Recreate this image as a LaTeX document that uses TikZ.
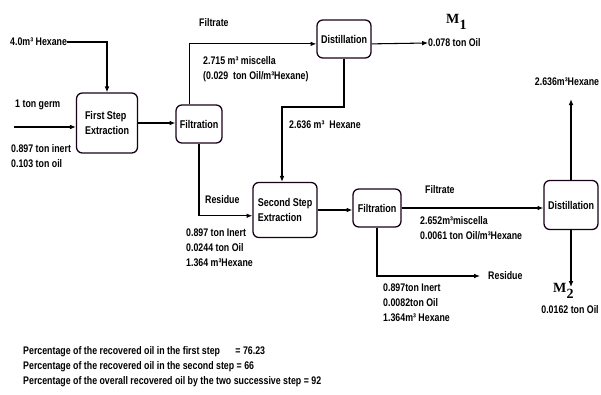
\documentclass[tikz,border=0pt]{standalone}
\usepackage{fontspec}
\setmainfont{Liberation Sans}[FakeStretch=0.8]
\newfontfamily\mfont{Liberation Serif}
\usetikzlibrary{arrows.meta}
\tikzset{
  unit/.style={draw=black!80!violet, line width=1.1pt, rounded corners=5pt, align=left, inner sep=1pt,
    font=\bfseries\fontsize{9.6}{12.5}\selectfont},
  lbl/.style={anchor=west, inner sep=0pt, align=left, font=\bfseries\fontsize{9.4}{12.8}\selectfont},
  stack/.style={lbl, anchor=north west},
  flow/.style={line width=0.9pt, -{Latex[length=5pt,width=4pt]}},
}
\begin{document}
\begin{tikzpicture}[x=0.03cm, y=-0.03cm]
   \useasboundingbox (0,0) rectangle (601,394);
   \node[unit, minimum width=1.83cm, minimum height=1.8cm] (ext1) at (107,123) {First Step\\Extraction};
   \node[unit, minimum width=1.38cm, minimum height=1.14cm] (filt1) at (199,124) {Filtration};
   \node[unit, minimum width=1.62cm, minimum height=1.14cm] (dist1) at (344,39) {Distillation};
   \node[unit, minimum width=1.92cm, minimum height=1.65cm] (ext2) at (285,210) {Second Step\\Extraction};
   \node[unit, minimum width=1.44cm, minimum height=1.14cm] (filt2) at (377,208) {Filtration};
   \node[unit, minimum width=1.62cm, minimum height=1.47cm] (dist2) at (571,205) {Distillation};
   \node[lbl] (hex0) at (10,42) {4.0m³ Hexane};
   \node[lbl] (germ) at (15,105) {1 ton germ};
   \node[stack] (feedcomp) at (11,144) {0.897 ton inert\\0.103 ton oil};
   \node[lbl] (filtrate1) at (199,23) {Filtrate};
   \node[stack] (misc1) at (203,56) {2.715 m³ miscella\\(0.029 \ ton Oil/m³Hexane)};
   \node[lbl] (m1) at (446,22) {\mfont\fontsize{12}{12}\selectfont M\raisebox{-5pt}{1}};
   \node[lbl] (oil1) at (428,43) {0.078 ton Oil};
   \node[lbl] (hexrec) at (289,125) {2.636 m³ \ Hexane};
   \node[lbl] (residue1) at (205,200) {Residue};
   \node[stack] (cake1) at (186,229) {0.897 ton Inert\\0.0244 ton Oil\\1.364 m³Hexane};
   \node[lbl] (filtrate2) at (425,190) {Filtrate};
   \node[stack] (misc2) at (420,216) {2.652m³miscella\\0.0061 ton Oil/m³Hexane};
   \node[lbl] (residue2) at (488,276) {Residue};
   \node[stack] (cake2) at (383,284) {0.897ton Inert\\0.0082ton Oil\\1.364m³ Hexane};
   \node[lbl, anchor=center] (hex2) at (567,82) {2.636m³Hexane};
   \node[lbl] (m2) at (553,291) {\mfont\fontsize{12}{12}\selectfont M\raisebox{-5pt}{2}};
   \node[lbl, anchor=center] (oil2) at (570,310) {0.0162 ton Oil};
   \node[stack] (result) at (23,346) {Percentage of the recovered oil in the first step\hspace{1.4em}= 76.23\\
     Percentage of the recovered oil in the second step = 66\\
     Percentage of the overall recovered oil by the two successive step = 92};
   \coordinate (feed) at (14,127);
   \coordinate (rec) at (282,107);
   \coordinate (m2tip) at (574,287);
   \draw[flow] (hex0.east) -| (ext1.north);
   \draw[flow] (feed) -- (feed -| ext1.west);
   \draw[flow] (ext1.east) -- (ext1.east -| filt1.west);
   \draw[flow] (filt1.115) |- (dist1.190);
   \draw[flow] (dist1.-10) -- (oil1.west);
   \draw[flow] (dist1.south) |- (rec) -- (rec |- ext2.north);
   \draw[flow] (filt1.south) |- (ext2.190);
   \draw[flow] (ext2.east) -- (ext2.east -| filt2.west);
   \draw[flow] (filt2.east) -- (filt2.east -| dist2.west);
   \draw[flow, shorten >=0.24cm] (filt2.south) |- (residue2.west);
   \draw[flow, shorten >=0.39cm] (dist2.north) -- (dist2.north |- hex2.south);
   \draw[flow] (dist2.south) -- (dist2.south |- m2tip);
\end{tikzpicture}
\end{document}
